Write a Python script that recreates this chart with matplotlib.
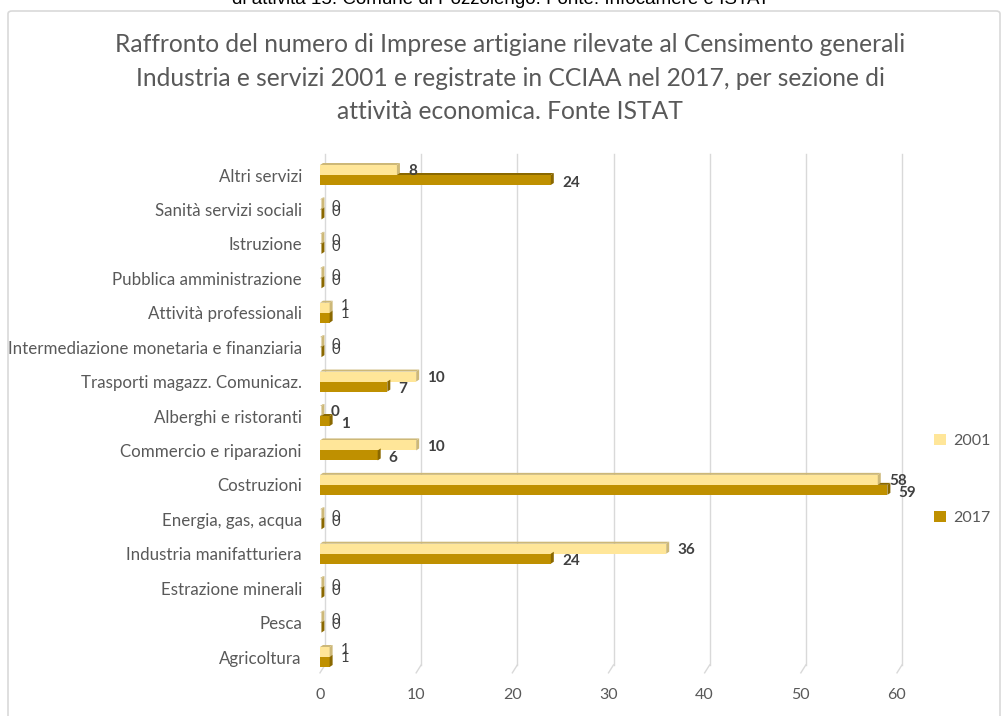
import matplotlib.pyplot as plt
import numpy as np
from matplotlib.patches import FancyBboxPatch, Polygon

# Sezioni di attività economica (dall'alto verso il basso)
categories = [
    "Altri servizi",
    "Sanità servizi sociali",
    "Istruzione",
    "Pubblica amministrazione",
    "Attività professionali",
    "Intermediazione monetaria e finanziaria",
    "Trasporti magazz. Comunicaz.",
    "Alberghi e ristoranti",
    "Commercio e riparazioni",
    "Costruzioni",
    "Energia, gas, acqua",
    "Industria manifatturiera",
    "Estrazione minerali",
    "Pesca",
    "Agricoltura",
]
imprese_2001 = [8, 0, 0, 0, 1, 0, 10, 0, 10, 58, 0, 36, 0, 0, 1]
imprese_2017 = [24, 0, 0, 0, 1, 0, 7, 1, 6, 59, 0, 24, 0, 0, 1]
x_ticks = [0, 10, 20, 30, 40, 50, 60]

COLORS = {
    "light": "#FFE699",
    "light_side": "#CDB878",
    "dark": "#BF9000",
    "dark_side": "#8A6800",
    "text": "#595959",
    "label": "#404040",
    "grid": "#D9D9D9",
}
FONT = "Lato"

W, H = 1002, 716
fig = plt.figure(figsize=(W / 100, H / 100), dpi=100)
fig.patch.set_facecolor("white")

# cornice del grafico
frame = FancyBboxPatch(
    (8 / W, -0.05), (1000 - 8) / W, 1 - 11 / H + 0.05,
    boxstyle="round,pad=0,rounding_size=0.004",
    transform=fig.transFigure, facecolor="none",
    edgecolor=COLORS["grid"], linewidth=1.2, zorder=-1,
)
fig.patches.append(frame)

# didascalia del documento, tagliata in alto
fig.text(0.5, 1 - 4 / H,
         "di attività 15. Comune di Pozzolengo. Fonte: Infocamere e ISTAT",
         ha="center", va="baseline", fontsize=13.5,
         family="Liberation Sans", color="black")

fig.text(510 / W, 1 - 78 / H,
         "Raffronto del numero di Imprese artigiane rilevate al Censimento generali\n"
         "Industria e servizi 2001 e registrate in CCIAA nel 2017, per sezione di\n"
         "attività economica. Fonte ISTAT",
         ha="center", va="center", fontsize=17.7, family=FONT,
         color=COLORS["text"], linespacing=1.55)

# area del grafico: 0 -> 320 px, 60 -> 897 px; categoria 0 a 175 px, passo 34.43 px
pitch = (657 - 175) / 14
y_top, y_bot = -0.6, 14.5
ax_top = 175 + y_top * pitch
ax_bot = 175 + y_bot * pitch
ax = fig.add_axes([320 / W, 1 - ax_bot / H, (897 - 320) / W, (ax_bot - ax_top) / H])
ax.set_xlim(0, 60)
ax.set_ylim(y_bot, y_top)
ax.patch.set_alpha(0)
for s in ax.spines.values():
    s.set_visible(False)

px_x = 60 / (897 - 320)       # unità dati per pixel (x)
px_y = 1 / pitch              # unità dati per pixel (y)
depth_x, depth_y = 3 * px_x, 2 * px_y
grid_dx = 5 * px_x

# griglia sulla parete di fondo con raccordo prospettico
for t in x_ticks:
    ax.plot([t + grid_dx, t + grid_dx], [y_top, 14.23], color=COLORS["grid"],
            lw=1, zorder=0, clip_on=False)
    ax.plot([t + grid_dx, t], [14.23, 14.46], color=COLORS["grid"],
            lw=1, zorder=0, clip_on=False)

y = np.arange(len(categories))
bar_h = 10 * px_y
off = 5 * px_y
b1 = ax.barh(y - off, imprese_2001, height=bar_h, color=COLORS["light"], zorder=3)
b2 = ax.barh(y + off, imprese_2017, height=bar_h, color=COLORS["dark"], zorder=3)


def add_depth(bars, side_color):
    """Disegna la faccia superiore e laterale per l'effetto 3D."""
    for r in bars:
        x0, w = r.get_x(), r.get_width()
        top, bot = r.get_y(), r.get_y() + r.get_height()
        w = max(w, 0.15)
        ax.add_patch(Polygon(
            [(x0, top), (x0 + w, top), (x0 + w + depth_x, top - depth_y),
             (x0 + depth_x, top - depth_y)],
            closed=True, facecolor=side_color, edgecolor="none", zorder=2))
        ax.add_patch(Polygon(
            [(x0 + w, bot), (x0 + w, top), (x0 + w + depth_x, top - depth_y),
             (x0 + w + depth_x, bot - depth_y)],
            closed=True, facecolor=side_color, edgecolor="none", zorder=4))


add_depth(b1, COLORS["light_side"])
add_depth(b2, COLORS["dark_side"])

# etichette dei valori; quelle uguali e piccole si sovrappongono
overlap_style = {0: (10.5, -1.8, 1.6), 1: (10.5, 1.4, 3.0)}
for i, (a, b) in enumerate(zip(imprese_2001, imprese_2017)):
    small = a == b and a <= 1
    weight = "normal" if small else "bold"
    size, dy1, dy2 = overlap_style[a] if small else (11, -1, -2)
    ax.annotate(str(a), (a, i - off), xytext=(8, dy1),
                textcoords="offset points", ha="left", va="center",
                fontsize=size, fontweight=weight, family=FONT,
                color=COLORS["label"], zorder=5)
    ax.annotate(str(b), (b, i + off), xytext=(8, dy2),
                textcoords="offset points", ha="left", va="center",
                fontsize=size, fontweight=weight, family=FONT,
                color=COLORS["label"], zorder=5)

ax.set_yticks(y)
ax.set_yticklabels(categories, fontsize=12.2, family=FONT, color=COLORS["text"])
ax.set_xticks(x_ticks)
ax.set_xticklabels([str(t) for t in x_ticks], fontsize=11.5, family=FONT,
                   color=COLORS["text"])
ax.tick_params(axis="y", length=0, pad=13)
ax.tick_params(axis="x", length=0, pad=10)

# legenda a destra, centrata verticalmente a 479 px
leg_y = (ax_bot - 479.5) / (ax_bot - ax_top)
leg = ax.legend(handles=[b1, b2], labels=["2001", "2017"],
                loc="center left", bbox_to_anchor=((928 - 320) / (897 - 320), leg_y),
                frameon=False, fontsize=11.5, handlelength=0.7, handleheight=0.7,
                handletextpad=0.5, labelspacing=3.9, borderaxespad=0)
for t in leg.get_texts():
    t.set_color(COLORS["text"])
    t.set_family(FONT)

fig.savefig("out.png", dpi=100, facecolor="white")
